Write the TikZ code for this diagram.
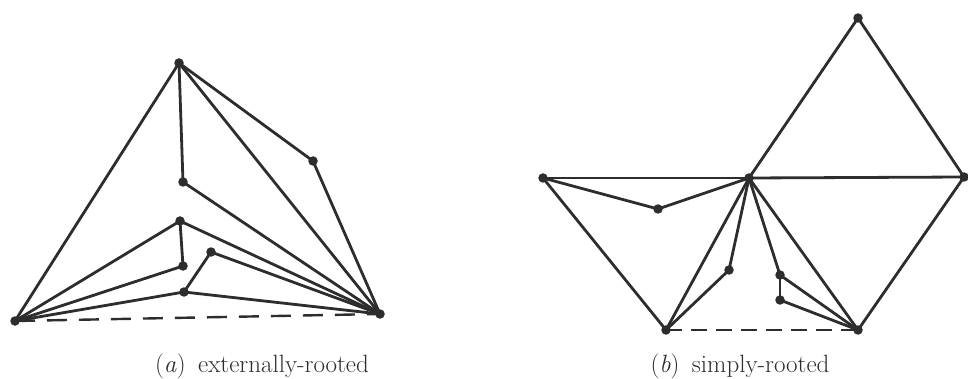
\documentclass[tikz,border=0pt]{standalone}
\definecolor{ink}{RGB}{45,45,45}
\begin{document}
\begin{tikzpicture}[x=1pt,y=-1pt,
  dot/.style={circle,fill=ink,draw=none,inner sep=0pt,minimum size=9.5pt},
  edge/.style={draw=ink,line width=2.8pt},
  dashedge/.style={draw=ink,line width=2.4pt,dash pattern=on 20pt off 12pt},
  dashedgeb/.style={draw=ink,line width=2.4pt,dash pattern=on 16pt off 9pt},
  captext/.style={text=ink,font=\fontsize{25}{30}\selectfont,anchor=base,inner sep=0pt}]
\useasboundingbox (0,0) rectangle (968,379);
% (a)
\node[dot] (A) at (15,321) {};
\node[dot] (B) at (380,314) {};
\node[dot] (T) at (179,63) {};
\node[dot] (P) at (313,161) {};
\node[dot] (Q) at (183,182) {};
\node[dot] (R) at (180,221) {};
\node[dot] (S) at (183,266) {};
\node[dot] (U) at (211,252) {};
\node[dot] (V) at (184,292) {};
\draw[edge] (A.center) -- (T.center);
\draw[edge] (T.center) -- (Q.center);
\draw[edge] (T.center) -- (B.center);
\draw[edge] (T.center) -- (P.center);
\draw[edge] (P.center) -- (B.center);
\draw[edge] (Q.center) -- (B.center);
\draw[edge] (A.center) -- (R.center);
\draw[edge] (R.center) -- (S.center);
\draw[edge] (R.center) -- (B.center);
\draw[edge] (A.center) -- (S.center);
\draw[edge] (U.center) -- (B.center);
\draw[edge] (U.center) -- (V.center);
\draw[edge] (A.center) -- (V.center);
\draw[edge] (V.center) -- (B.center);
\draw[dashedge] (A.center) -- (B.center);
% (b)
\node[dot] (Tp) at (858,18) {};
\node[dot] (Lf) at (543,178) {};
\node[dot] (C) at (749,178) {};
\node[dot] (Rt) at (964,177) {};
\node[dot] (L1) at (658,209) {};
\node[dot] (BL) at (666,330) {};
\node[dot] (BR) at (858,330) {};
\node[dot] (M) at (729,270) {};
\node[dot] (N1) at (780,275) {};
\node[dot] (N2) at (780,300) {};
\draw[edge] (Tp.center) -- (C.center);
\draw[edge] (Tp.center) -- (Rt.center);
\draw[edge] (Lf.center) -- (C.center);
\draw[edge] (C.center) -- (Rt.center);
\draw[edge] (Lf.center) -- (L1.center);
\draw[edge] (L1.center) -- (C.center);
\draw[edge] (Lf.center) -- (BL.center);
\draw[edge] (BL.center) -- (C.center);
\draw[edge] (BL.center) -- (M.center);
\draw[edge] (M.center) -- (C.center);
\draw[edge] (C.center) -- (N1.center);
\draw[edge] (N1.center) -- (N2.center);
\draw[edge] (N1.center) -- (BR.center);
\draw[edge] (N2.center) -- (BR.center);
\draw[edge] (C.center) -- (BR.center);
\draw[edge] (Rt.center) -- (BR.center);
\draw[dashedgeb] (BL.center) -- (BR.center);
% captions
\node[captext] (capa) at (262,372) {(\textit{a})\enspace externally-rooted};
\node[captext] (capb) at (740,372) {(\textit{b})\enspace simply-rooted};
\end{tikzpicture}
\end{document}
